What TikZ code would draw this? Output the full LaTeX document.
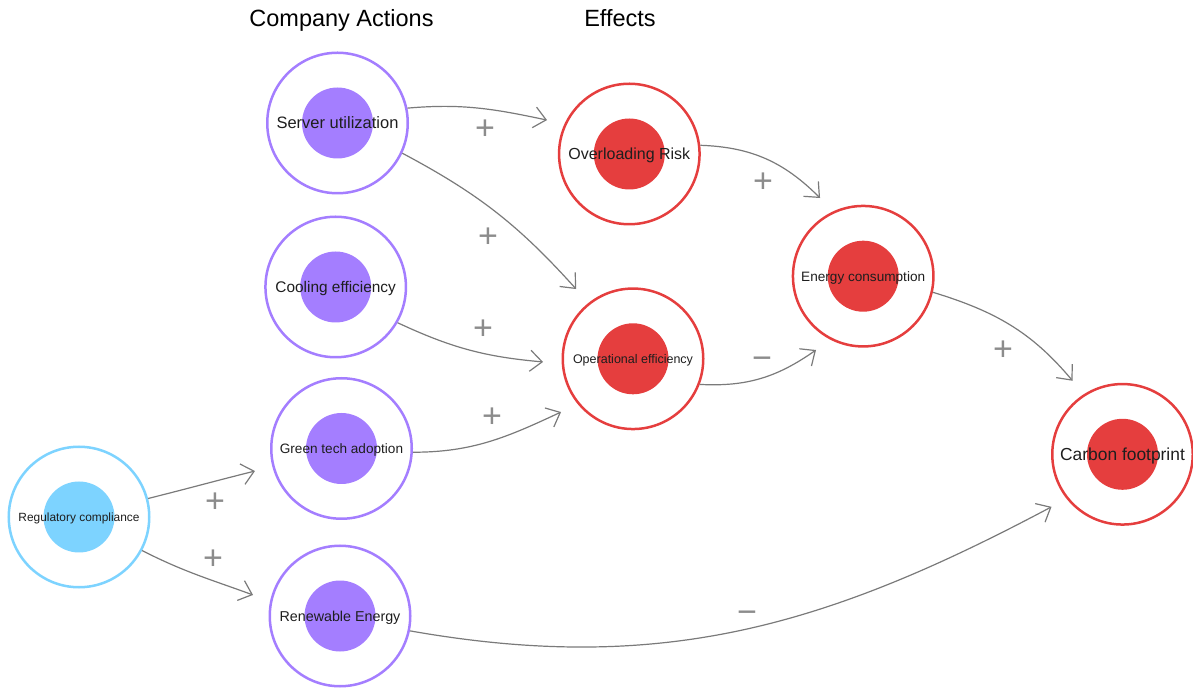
\documentclass[tikz,border=0pt]{standalone}
\usepackage{fontspec}
\setmainfont{Liberation Sans}
\usetikzlibrary{arrows.meta,calc}
\definecolor{purp}{HTML}{A47EFF}
\definecolor{blu}{HTML}{7DD3FF}
\definecolor{redc}{HTML}{E53E3E}
\definecolor{edgec}{HTML}{7A7A7A}
\definecolor{signc}{HTML}{8C8C8C}
\definecolor{txt}{HTML}{1E1E1E}
\tikzset{
  concept/.style={circle, draw=#1, line width=2.5pt, minimum size=140.5pt, inner sep=0pt,
    text=txt, text depth=0pt,
    path picture={\fill[#1] (path picture bounding box.center) circle (35.5pt);}},
  fs/.style={font=\fontsize{#1}{#1}\selectfont},
  heading/.style={anchor=base, text=black, font=\fontsize{23.5}{23.5}\selectfont},
  edge/.style={draw=edgec, line width=1.2pt, -{Straight Barb[length=12pt,width=21pt]}},
  sign/.style={anchor=base, yshift=-12pt, text=signc, font=\fontsize{34}{34}\selectfont}
}
\begin{document}
\begin{tikzpicture}[x=1pt,y=1pt]
\useasboundingbox (0,0) rectangle (1193,688);
% headings
\node[heading] (h1) at (341.5,661) {Company Actions};
\node[heading] (h2) at (620,661) {Effects};
% concepts
\node[concept=purp, fs=16.5, text height=11.8pt] (su) at (337.5,565) {Server utilization};
\node[concept=purp, fs=15.4, text height=11pt] (ce) at (335.7,401) {Cooling efficiency};
\node[concept=purp, fs=13.6, text height=9.7pt] (gt) at (341.5,239.5) {Green tech adoption};
\node[concept=purp, fs=14.3, text height=10.2pt] (re) at (340,72) {Renewable Energy};
\node[concept=blu, fs=11.9, text height=8.5pt] (rc) at (79,171) {Regulatory compliance};
\node[concept=redc, fs=16, text height=11.5pt] (ol) at (629.3,534) {Overloading Risk};
\node[concept=redc, fs=12.5, text height=8.95pt] (oe) at (633,329.2) {Operational efficiency};
\node[concept=redc, fs=13.6, text height=9.7pt] (ec) at (863.2,411.8) {Energy consumption};
\node[concept=redc, fs=17.4, text height=12.5pt] (cf) at (1122.5,233.7) {Carbon footprint};
% connectors
\draw[edge] (su.12.6) to[out=5,in=168] ($(ol)+(157.6:89pt)$);
\draw[edge] (su.-25.3) to[out=-28,in=132] ($(oe)+(129.2:90pt)$);
\draw[edge] (ce.-30) to[out=-25,in=175] ($(oe)+(182:90pt)$);
\draw[edge] (gt.-3.5) to[out=0,in=205] ($(oe)+(216.5:89.5pt)$);
\draw[edge] (rc.15.7) to[out=14,in=194] ($(gt)+(194.6:89.4pt)$);
\draw[edge] (rc.-28.7) to[out=-27,in=160] ($(re)+(166.4:89.5pt)$);
\draw[edge] (ol.7.8) to[out=-2,in=135] ($(ec)+(118.9:89.3pt)$);
\draw[edge] (oe.-21) to[out=-3,in=215] ($(ec)+(237.4:87.6pt)$);
\draw[edge] (ec.-13.5) to[out=-17,in=130] ($(cf)+(124.2:88.9pt)$);
\draw[edge] (re.-12.9) to[out=-10,in=208] ($(cf)+(216.5:88.3pt)$);
% signs
\node[sign] (s1) at (485,560) {+};
\node[sign] (s2) at (488,452) {+};
\node[sign] (s3) at (483,360) {+};
\node[sign] (s4) at (492,272) {+};
\node[sign] (s5) at (215,187) {+};
\node[sign] (s6) at (213,131) {+};
\node[sign] (s7) at (763,507) {+};
\node[sign] (s8) at (762,330) {−};
\node[sign] (s9) at (1003,339) {+};
\node[sign] (s10) at (747,77) {−};
\end{tikzpicture}
\end{document}
